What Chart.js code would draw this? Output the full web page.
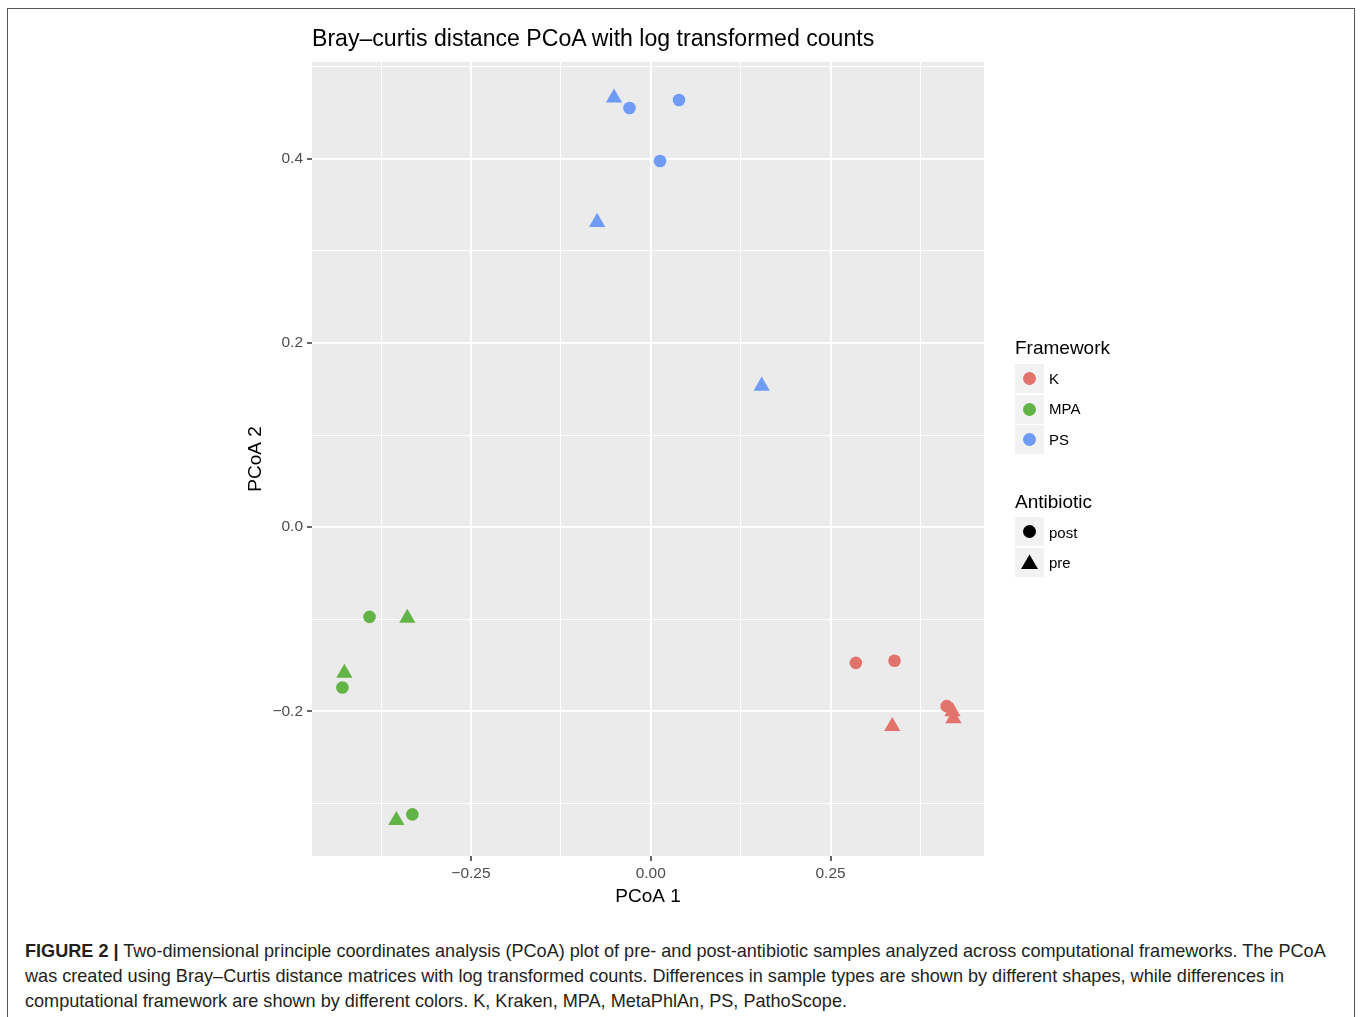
<!DOCTYPE html>
<html>
<head>
<meta charset="utf-8">
<script src="https://cdn.jsdelivr.net/npm/chart.js@4.4.1/dist/chart.umd.min.js"></script>
<style>
  html,body{margin:0;padding:0;background:#fff;overflow:hidden;}
  body{width:1360px;height:1017px;position:relative;font-family:"Liberation Sans",Arial,sans-serif;}
  #frame{position:absolute;left:7px;top:8px;width:1346px;height:1100px;border:1.5px solid #555;border-bottom:none;}
  #wrap{position:absolute;left:0;top:0;width:1360px;height:930px;}
  #title{position:absolute;left:312px;top:27px;font-size:23.1px;line-height:23px;color:#000;white-space:nowrap;}
  .legTitle{position:absolute;left:1015px;font-size:19px;line-height:19px;color:#000;}
  .key{position:absolute;left:1015px;width:29px;height:29px;background:#f2f2f2;}
  .key svg{position:absolute;left:0;top:0;}
  .lab{position:absolute;left:1049px;font-size:15px;line-height:15px;color:#000;}
  #caption{position:absolute;left:25px;top:939px;font-size:18.1px;line-height:25px;color:#231f20;white-space:nowrap;}
</style>
</head>
<body>
<div id="frame"></div>
<div id="wrap"><canvas id="pcoa" width="1360" height="930"></canvas></div>
<div id="title">Bray–curtis distance PCoA with log transformed counts</div>
<div id="legend"></div>
<div id="caption"><b>FIGURE 2 |</b> Two-dimensional principle coordinates analysis (PCoA) plot of pre- and post-antibiotic samples analyzed across computational frameworks. The PCoA<br>was created using Bray–Curtis distance matrices with log transformed counts. Differences in sample types are shown by different shapes, while differences in<br>computational framework are shown by different colors. K, Kraken, MPA, MetaPhlAn, PS, PathoScope.</div>

<script>
// -------- data --------
const frameworks = ['K','MPA','PS'];
const frameworkColors = ['#e2736c','#62b446','#6f9bf7'];
const antibiotics = ['post','pre'];

const kX  = [0.2851, 0.3389, 0.4115, 0.4194, 0.4208, 0.3357];
const kY  = [-0.1473, -0.1451, -0.1943, -0.2001, -0.2077, -0.2162];
const kAb = ['post','post','post','pre','pre','pre'];

const mpaX  = [-0.3910, -0.4287, -0.3315, -0.3385, -0.4260, -0.3537];
const mpaY  = [-0.0974, -0.1740, -0.3118, -0.0987, -0.1584, -0.3183];
const mpaAb = ['post','post','post','pre','pre','pre'];

const psX  = [-0.0296, 0.0393, 0.0129, -0.0511, -0.0746, 0.1542];
const psY  = [0.4550, 0.4637, 0.3975, 0.4660, 0.3310, 0.1533];
const psAb = ['post','post','post','pre','pre','pre'];

const xTicks = [-0.375, -0.25, -0.125, 0, 0.125, 0.25, 0.375];
const yTicks = [-0.3, -0.2, -0.1, 0, 0.1, 0.2, 0.3, 0.4, 0.5];
const xRange = [-0.471, 0.4633];
const yRange = [-0.357, 0.505];

// -------- helpers --------
function isMajor(v, step){
    let r = v/step;
    return Math.abs(r-Math.round(r)) < 1e-9;
}
function fmt(v, digits){
    let s = Math.abs(v).toFixed(digits);
    return v < -1e-9 ? '\u2212'+s : s;
}
function makeSet(label, color, xs, ys, abs){
    return {
        label: label,
        data: xs.map((x,i)=>({x:x, y:ys[i]})),
        pointStyle: abs.map(a=> a==='post' ? 'circle' : 'triangle'),
        pointRadius: abs.map(a=> a==='post' ? 6.3 : 9.4),
        pointBackgroundColor: color,
        pointBorderColor: color,
        pointBorderWidth: 0,
        showLine: false
    };
}

// grey panel behind the grid
const panelBg = {
    id:'panelBg',
    beforeDraw(chart){
        const a = chart.chartArea, c = chart.ctx;
        c.save();
        c.fillStyle = '#ebebeb';
        c.fillRect(a.left, a.top, a.right-a.left, a.bottom-a.top);
        c.restore();
    }
};

const tickFont = {family:'"Liberation Sans", Arial, sans-serif', size:15.5};
const titleFont = {family:'"Liberation Sans", Arial, sans-serif', size:19};

// -------- chart --------
new Chart(document.getElementById('pcoa'),{
    type:'scatter',
    data:{
        datasets:[
            makeSet(frameworks[0], frameworkColors[0], kX, kY, kAb),
            makeSet(frameworks[1], frameworkColors[1], mpaX, mpaY, mpaAb),
            makeSet(frameworks[2], frameworkColors[2], psX, psY, psAb)
        ]
    },
    options:{
        responsive:false,
        animation:false,
        events:[],
        layout:{padding:{left:240, top:62, right:376, bottom:19.6}},
        plugins:{legend:{display:false}, tooltip:{enabled:false}, title:{display:false}},
        scales:{
            x:{
                type:'linear', min:xRange[0], max:xRange[1],
                afterBuildTicks: s=>{ s.ticks = xTicks.map(v=>({value:v})); },
                afterFit: s=>{ s.height = 54.4; },
                border:{display:false},
                grid:{
                    color:'#ffffff',
                    lineWidth: ctx=> isMajor(ctx.tick.value,0.25) ? 2 : 1,
                    tickColor: ctx=> isMajor(ctx.tick.value,0.25) ? '#333333' : 'rgba(0,0,0,0)',
                    tickWidth:1.5, tickLength:5
                },
                ticks:{
                    autoSkip:false, maxRotation:0, padding:3.5,
                    color:'#4d4d4d', font:tickFont,
                    callback: v=> isMajor(v,0.25) ? fmt(v,2) : ''
                },
                title:{display:true, text:'PCoA 1', color:'#000', font:titleFont, padding:{top:0, bottom:2}}
            },
            y:{
                type:'linear', min:yRange[0], max:yRange[1],
                afterBuildTicks: s=>{ s.ticks = yTicks.map(v=>({value:v})); },
                afterFit: s=>{ s.width = 72; },
                border:{display:false},
                grid:{
                    color:'#ffffff',
                    lineWidth: ctx=> isMajor(ctx.tick.value,0.2) ? 2 : 1,
                    tickColor: ctx=> isMajor(ctx.tick.value,0.2) ? '#333333' : 'rgba(0,0,0,0)',
                    tickWidth:1.5, tickLength:5
                },
                ticks:{
                    autoSkip:false, padding:4,
                    color:'#4d4d4d', font:tickFont,
                    callback: v=> isMajor(v,0.2) ? fmt(v,1) : ''
                },
                title:{display:true, text:'PCoA 2', color:'#000', font:titleFont, padding:{top:4, bottom:0}}
            }
        }
    },
    plugins:[panelBg]
});

// -------- legend (html) --------
function buildLegend(){
    let html = '';
    html += '<div class="legTitle" style="top:338px">Framework</div>';
    frameworks.forEach((f,i)=>{
        let top = 364 + i*30.5;
        html += `<div class="key" style="top:${top}px"><svg width="29" height="29"><circle cx="14.5" cy="14.5" r="6.5" fill="${frameworkColors[i]}"/></svg></div>`;
        html += `<div class="lab" style="top:${top+6.5}px">${f}</div>`;
    });
    html += '<div class="legTitle" style="top:492px">Antibiotic</div>';
    antibiotics.forEach((a,i)=>{
        let top = 517 + i*30.5;
        let shape = a==='post'
            ? '<circle cx="14.5" cy="14.5" r="6.5" fill="#000"/>'
            : '<polygon points="14.5,6.5 23,21 6,21" fill="#000"/>';
        html += `<div class="key" style="top:${top}px"><svg width="29" height="29">${shape}</svg></div>`;
        html += `<div class="lab" style="top:${top+7.5}px">${a}</div>`;
    });
    document.getElementById('legend').innerHTML = html;
}
buildLegend();
</script>
</body>
</html>
